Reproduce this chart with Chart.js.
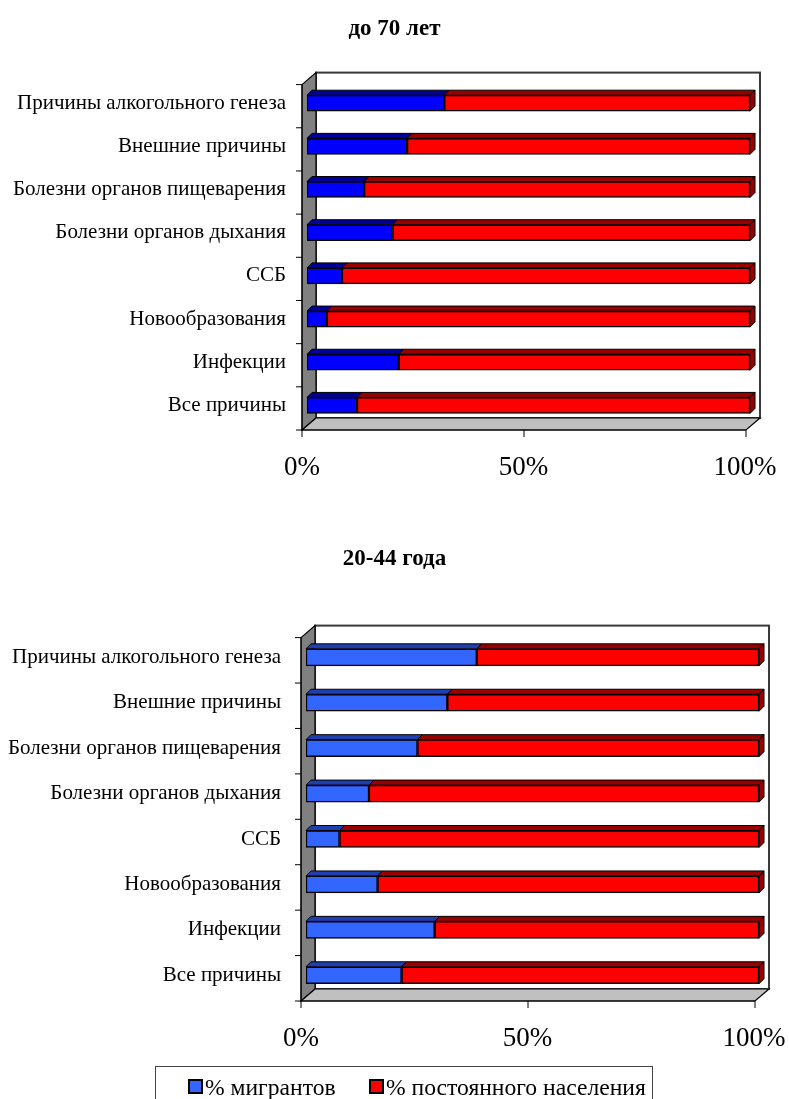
<!DOCTYPE html>
<html lang="ru">
<head>
<meta charset="utf-8">
<title>Мигранты и постоянное население</title>
<script src="https://cdn.jsdelivr.net/npm/chart.js@4/dist/chart.umd.min.js"></script>
<style>
  html, body { margin: 0; padding: 0; background: #fff; }
  body { width: 789px; height: 1099px; position: relative; overflow: hidden; font-family: "Liberation Serif", "Times New Roman", serif; }
  canvas { position: absolute; left: 0; }
  #chartTop { top: 0; }
  #chartBottom { top: 530px; }
  #legenda {
    position: absolute; left: 155px; top: 1066px; width: 498px; height: 44px;
    border: 1px solid #444; box-sizing: border-box; font-size: 23.6px; color: #000;
  }
  .item { position: absolute; top: 7px; white-space: nowrap; line-height: 26px; }
  .box { display: inline-block; width: 11px; height: 11px; border: 2px solid #000; margin-right: 2px; vertical-align: 1px; }
</style>
</head>
<body>
<canvas id="chartTop" width="789" height="520"></canvas>
<canvas id="chartBottom" width="789" height="569"></canvas>
<div id="legenda">
  <span class="item" style="left:32px"><span class="box" style="background:#3366ff"></span>% мигрантов</span>
  <span class="item" style="left:213px"><span class="box" style="background:#ff0000"></span>% постоянного населения</span>
</div>
<script>
const categorias = [
  "Причины алкогольного генеза",
  "Внешние причины",
  "Болезни органов пищеварения",
  "Болезни органов дыхания",
  "ССБ",
  "Новообразования",
  "Инфекции",
  "Все причины"
];

// до 70 лет
const migrantes70 = [31, 22.6, 12.9, 19.3, 7.9, 4.5, 20.7, 11.3];
const residentes70 = [69, 77.4, 87.1, 80.7, 92.1, 95.5, 79.3, 88.7];

// 20-44 года
const migrantes2044 = [37.7, 31.2, 24.6, 13.9, 7.4, 15.8, 28.4, 21.1];
const residentes2044 = [62.3, 68.8, 75.4, 86.1, 92.6, 84.2, 71.6, 78.9];

const ticksX = [0, 50, 100];
const nomesSeries = ["% мигрантов", "% постоянного населения"];

Chart.defaults.font.family = "'Liberation Serif', 'Times New Roman', serif";
Chart.defaults.color = "#000";

// walls, floor and bar depth, Excel 3D style
const DX = 14, DY = 12;
const BAR_D = 5;

function poligono(ctx, pts, fill) {
  ctx.beginPath();
  ctx.moveTo(pts[0][0], pts[0][1]);
  for (let i = 1; i < pts.length; i++) ctx.lineTo(pts[i][0], pts[i][1]);
  ctx.closePath();
  ctx.fillStyle = fill;
  ctx.fill();
  ctx.stroke();
}

const efeito3d = {
  id: "efeito3d",
  beforeDatasetsDraw(chart) {
    const { ctx, chartArea: a, scales: { x } } = chart;
    const fl = x.getPixelForValue(0) - 5;
    const fr = x.getPixelForValue(100) - 4;
    const ft = a.top + 3;
    const fb = a.bottom + 3;
    ctx.save();
    // back wall
    ctx.fillStyle = "#fff";
    ctx.strokeStyle = "#3a3a3a";
    ctx.lineWidth = 2;
    ctx.fillRect(fl + DX, ft - DY, fr - fl, fb - ft);
    ctx.strokeRect(fl + DX, ft - DY, fr - fl, fb - ft);
    ctx.strokeStyle = "#000";
    ctx.lineWidth = 1.2;
    // left wall
    poligono(ctx, [[fl, ft], [fl + DX, ft - DY], [fl + DX, fb - DY], [fl, fb]], "#808080");
    // floor
    poligono(ctx, [[fl, fb], [fl + DX, fb - DY], [fr + DX, fb - DY], [fr, fb]], "#c0c0c0");
    // axes
    ctx.lineWidth = 1;
    ctx.beginPath();
    ctx.moveTo(fl, ft); ctx.lineTo(fl, fb); ctx.lineTo(fr, fb);
    const passo = (fb - ft) / categorias.length;
    for (let i = 0; i <= categorias.length; i++) {
      ctx.moveTo(fl - 6, ft + i * passo);
      ctx.lineTo(fl, ft + i * passo);
    }
    ticksX.forEach(v => {
      const px = x.getPixelForValue(v) - 5 + v / 100;
      ctx.moveTo(px, fb);
      ctx.lineTo(px, fb + 7);
    });
    ctx.stroke();
    ctx.restore();
  },
  afterDatasetsDraw(chart) {
    const { ctx } = chart;
    ctx.save();
    ctx.strokeStyle = "#000";
    ctx.lineWidth = 1;
    const n = chart.data.datasets.length;
    chart.data.datasets.forEach((ds, di) => {
      const meta = chart.getDatasetMeta(di);
      meta.data.forEach(el => {
        const p = el.getProps(["x", "y", "base", "height"], true);
        const esq = Math.min(p.x, p.base);
        const dir = Math.max(p.x, p.base);
        const topo = p.y - p.height / 2;
        const fundo = p.y + p.height / 2;
        poligono(ctx, [[esq, topo], [esq + BAR_D, topo - BAR_D], [dir + BAR_D, topo - BAR_D], [dir, topo]], ds.corTopo);
        if (di === n - 1) {
          poligono(ctx, [[dir, topo], [dir + BAR_D, topo - BAR_D], [dir + BAR_D, fundo - BAR_D], [dir, fundo]], ds.corTopo);
        }
      });
    });
    ctx.restore();
  }
};

function criarGrafico(id, titulo, migr, resid, cfg) {
  const ctx = document.getElementById(id).getContext("2d");
  return new Chart(ctx, {
    type: "bar",
    data: {
      labels: categorias,
      datasets: [
        {
          label: nomesSeries[0],
          data: migr,
          backgroundColor: cfg.azul,
          corTopo: cfg.azulTopo,
          borderColor: "#000",
          borderWidth: 1.5,
          borderSkipped: false,
          barThickness: cfg.espessura
        },
        {
          label: nomesSeries[1],
          data: resid,
          backgroundColor: "#ff0000",
          corTopo: "#990000",
          borderColor: "#000",
          borderWidth: 1.5,
          borderSkipped: false,
          barThickness: cfg.espessura
        }
      ]
    },
    options: {
      indexAxis: "y",
      responsive: false,
      animation: false,
      layout: { padding: 0 },
      scales: {
        x: {
          stacked: true,
          min: 0,
          max: 100,
          afterBuildTicks: scale => { scale.ticks = ticksX.map(v => ({ value: v })); },
          afterFit: scale => {
            scale.height = cfg.alturaX;
            scale.paddingLeft = 0;
            scale.paddingRight = cfg.direita;
          },
          grid: { display: false, drawTicks: false },
          border: { display: false },
          ticks: {
            callback: v => v + "%",
            font: { size: 27 },
            padding: 25,
            labelOffset: -5,
            maxRotation: 0
          }
        },
        y: {
          stacked: true,
          afterFit: scale => { scale.width = cfg.esquerda; },
          grid: { display: false, drawTicks: false },
          border: { display: false },
          ticks: { font: { size: 21 }, padding: cfg.padY }
        }
      },
      plugins: {
        legend: { display: false },
        tooltip: { enabled: false },
        title: {
          display: true,
          text: titulo,
          font: { size: 23, weight: "bold" },
          padding: { top: 15, bottom: cfg.tituloBaixo }
        }
      }
    },
    plugins: [efeito3d]
  });
}

criarGrafico("chartTop", "до 70 лет", migrantes70, residentes70, {
  azul: "#0000ff", azulTopo: "#000099", espessura: 16,
  esquerda: 307, direita: 39, alturaX: 93, padY: 21, tituloBaixo: 39
});

criarGrafico("chartBottom", "20-44 года", migrantes2044, residentes2044, {
  azul: "#3366ff", azulTopo: "#1f3fb0", espessura: 17,
  esquerda: 306, direita: 30, alturaX: 101, padY: 25, tituloBaixo: 62
});
</script>
</body>
</html>
